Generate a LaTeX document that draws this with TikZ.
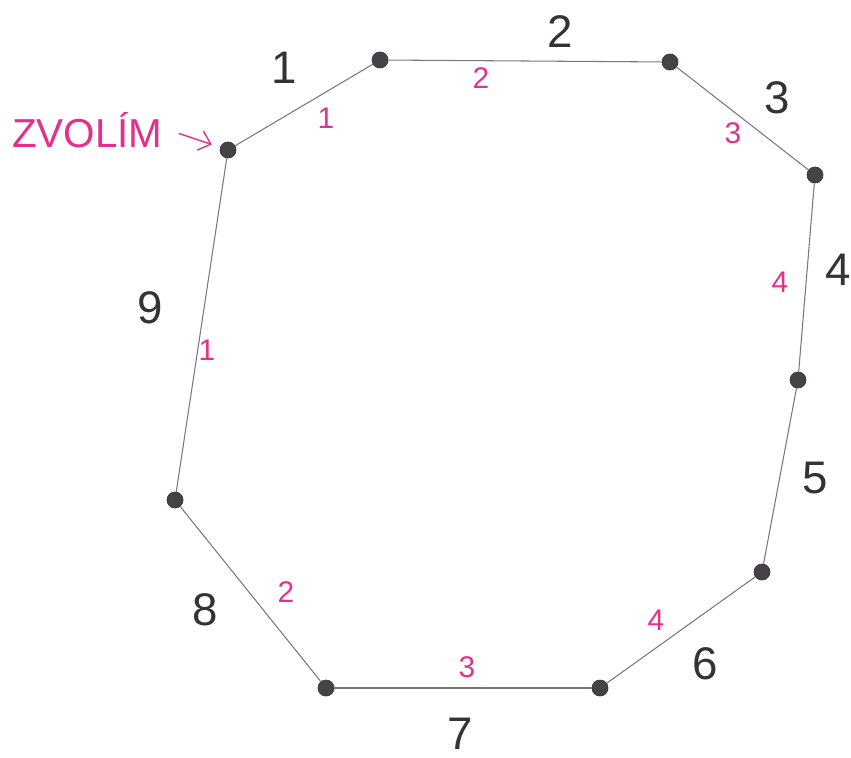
\documentclass[tikz,border=0pt]{standalone}
\usepackage{fontspec}
\setmainfont{Liberation Sans}
\usepackage{tikz}
\usetikzlibrary{arrows.meta}

\definecolor{penpink}{RGB}{226,48,140}
\definecolor{penline}{RGB}{120,120,120}
\definecolor{pendot}{RGB}{70,66,72}

\begin{document}
\begin{tikzpicture}[
        x=0.02cm, y=-0.02cm,
        vertex/.style={draw=pendot!80!black, fill=pendot, circle, minimum size=3.2mm, inner sep=0pt},
        edge/.style={draw=penline, semithick},
        weight/.style={font=\fontsize{26}{28}\selectfont, text=black!80},
        order/.style={font=\fontsize{17}{19}\selectfont, text=penpink},
        pointer/.style={-{Straight Barb[length=2.2mm, width=4mm]}, penpink, thick}
    ]

    \useasboundingbox (0,0) rectangle (851,757);

    % Vertices of the polygon
    \node[vertex] (a) at (228,150) {};
    \node[vertex] (b) at (380,60) {};
    \node[vertex] (c) at (670,62) {};
    \node[vertex] (d) at (815,175) {};
    \node[vertex] (e) at (798,380) {};
    \node[vertex] (f) at (762,572) {};
    \node[vertex] (g) at (600,688) {};
    \node[vertex] (h) at (326,688) {};
    \node[vertex] (i) at (175,500) {};

    % Edges
    \draw[edge] (a) -- (b);
    \draw[edge] (b) -- (c);
    \draw[edge] (c) -- (d);
    \draw[edge] (d) -- (e);
    \draw[edge] (e) -- (f);
    \draw[edge] (f) -- (g);
    \draw[edge] (g) -- (h);
    \draw[edge] (h) -- (i);
    \draw[edge] (i) -- (a);

    % Edge numbers (black)
    \node[weight] (w1) at (284,68) {1};
    \node[weight] (w2) at (560,32) {2};
    \node[weight] (w3) at (777,98) {3};
    \node[weight] (w4) at (838,270) {4};
    \node[weight] (w5) at (815,478) {5};
    \node[weight] (w6) at (705,664) {6};
    \node[weight] (w7) at (460,734) {7};
    \node[weight] (w8) at (205,610) {8};
    \node[weight] (w9) at (150,308) {9};

    % Order of visiting (pink)
    \node[order] (o1) at (326,118) {1};
    \node[order] (o2) at (481,78) {2};
    \node[order] (o3) at (733,133) {3};
    \node[order] (o4) at (780,282) {4};
    \node[order] (o5) at (656,620) {4};
    \node[order] (o6) at (467,667) {3};
    \node[order] (o7) at (286,592) {2};
    \node[order] (o8) at (207,350) {1};

    % Start label
    \node[anchor=west, text=penpink, font=\fontsize{23}{25}\selectfont] (start) at (6,130) {ZVOLÍM};
    \draw[pointer, shorten <=6pt, shorten >=5pt] (start.east) -- (a);

\end{tikzpicture}
\end{document}
